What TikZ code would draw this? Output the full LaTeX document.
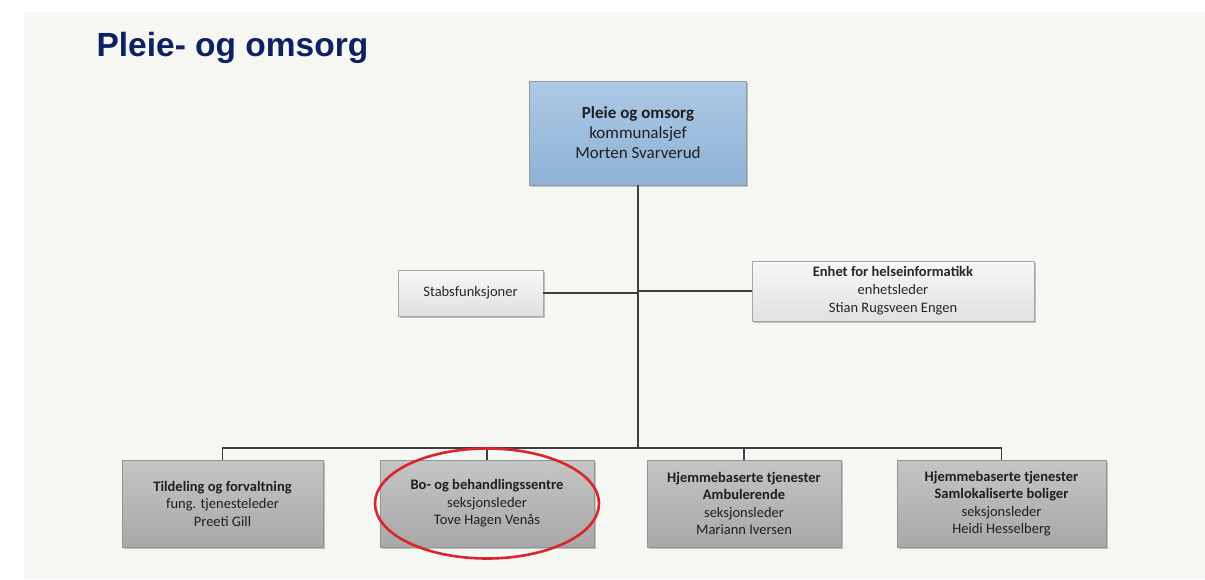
\documentclass[tikz,border=0pt]{standalone}
\usepackage{fontspec}
\setmainfont{Carlito}
\newfontfamily\titlefont{Liberation Sans}
\usepackage{xcolor}
\usepackage{tikz}
\usetikzlibrary{positioning,calc,shadows}
\definecolor{navy}{HTML}{0E2262}
\definecolor{panel}{HTML}{F6F6F2}
\definecolor{linegray}{HTML}{3F3F3F}
\definecolor{ringred}{HTML}{D8262B}
\definecolor{chieftop}{HTML}{ADCAE6}
\definecolor{chiefbot}{HTML}{8EB1D5}
\tikzset{
  boxshadow/.style={drop shadow={shadow xshift=1.5pt, shadow yshift=-1.5pt, fill=black, opacity=.22}},
  chief/.style={draw=gray!80, line width=0.8pt, top color=chieftop, bottom color=chiefbot, boxshadow,
    minimum width=217pt, minimum height=104pt, inner sep=2pt, align=center, text=black!88,
    font=\fontsize{17}{20}\selectfont},
  staff/.style={draw=gray!70, line width=0.8pt, top color=white!97!black, bottom color=black!12, boxshadow,
    inner sep=2pt, align=center, text=black!85, font=\fontsize{14.5}{18}\selectfont},
  unit/.style={draw=gray!85, line width=0.8pt, top color=black!23, bottom color=black!34, boxshadow,
    minimum height=87pt, inner sep=2pt, align=center, text=black!88, font=\fontsize{14.5}{17.5}\selectfont},
  link/.style={draw=linegray, line width=1.7pt},
}
\begin{document}
\begin{tikzpicture}[x=1pt, y=-1pt]
  \useasboundingbox (0,0) rectangle (1205,579);
  \fill[white] (0,0) rectangle (1205,579);
  \fill[panel] (24,12) rectangle (1205,579);

  \node[anchor=base west, text=navy, font=\titlefont\fontsize{33.5}{38}\selectfont\bfseries] (title) at (93,56) {Pleie- og omsorg};

  \node[chief] (chief) at (638,133) {\textbf{Pleie og omsorg}\\kommunalsjef\\Morten Svarverud};

  \node[staff, minimum width=145pt, minimum height=46pt] (stab) at (470.5,293) {Stabsfunksjoner};
  \node[staff, minimum width=282pt, minimum height=60pt] (ehi) at (893,291) {\textbf{Enhet for helseinformatikk}\\enhetsleder\\Stian Rugsveen Engen};

  \node[unit, minimum width=201pt] (tild) at (222.5,503.5) {\textbf{Tildeling og forvaltning}\\fung. tjenesteleder\\Preeti Gill};
  \node[unit, minimum width=214pt] (bobeh) at (487,503.5) {\textbf{Bo- og behandlingssentre}\\seksjonsleder\\Tove Hagen Venås};
  \node[unit, minimum width=194pt] (hjamb) at (744,503.5) {\textbf{Hjemmebaserte tjenester}\\\textbf{Ambulerende}\\seksjonsleder\\Mariann Iversen};
  \node[unit, minimum width=209pt] (hjsam) at (1001.5,503.5) {\textbf{Hjemmebaserte tjenester}\\\textbf{Samlokaliserte boliger}\\seksjonsleder\\Heidi Hesselberg};

  % connectors
  \coordinate (bus) at (638,448);
  \draw[link] (chief.south) -- (bus);
  \draw[link] (stab.east) -- (stab.east -| chief.south);
  \draw[link] (ehi.west) -- (ehi.west -| chief.south);
  \draw[link] (tild.north) -- (tild.north |- bus) -- (hjsam.north |- bus) -- (hjsam.north);
  \draw[link] (bobeh.north) -- (bobeh.north |- bus);
  \draw[link] (hjamb.north) -- (hjamb.north |- bus);

  % red ring
  \draw[ringred, line width=2.6pt] (bobeh.center) ellipse [x radius=112pt, y radius=55pt];
\end{tikzpicture}
\end{document}
